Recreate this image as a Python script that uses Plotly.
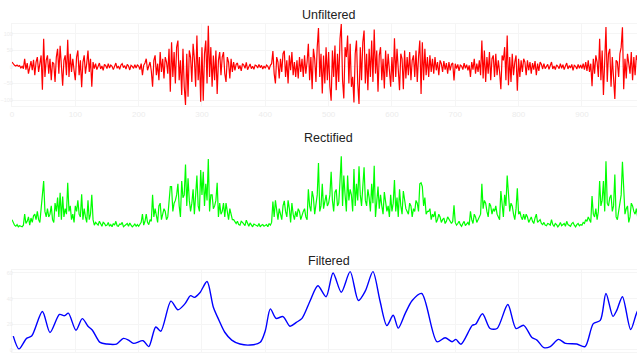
import plotly.graph_objects as go

# Unfiltered signal, one value every 2 samples (sample 0 .. 998)
unfiltered = [
    15, 8, 5, 3, 6, 2, 4, -3, 2, -5, 25, -8, 12, -20, 5, 18, -10, 22, -25, 15, 30, -15, 10, 35, -69,
    85, -30, 20, 35, -20, 25, -40, 15, 10, -45, 30, 55, -20, 64, -15, -57, 20, 35, -25, 82, -30, 40, -15, 25, -10,
    -40, 30, 50, -25, 20, -61, 15, 35, -20, 10, 50, -15, 25, -60, 15, -5, 10, -8, 5, 12, -6, 3, -10, 8, 4,
    -5, 10, -3, 6, 2, -8, 5, 12, -4, 3, -7, 6, 10, -2, 4, -6, 8, 3, -9, 5, 2, -4, 7, -3, 6,
    3, -8, 10, -25, 5, 12, 25, -10, 6, 15, -12, -60, 20, 35, -25, 10, -40, 45, -15, 25, -35, 30, 15, -20, 55,
    -75, 75, -30, 45, -50, 60, 80, -40, 20, -85, 55, -60, -115, 40, -90, 50, 30, -45, 70, 25, -60, 95, -40, 30, -105,
    60, -102, 40, 80, -50, 125, -30, 60, -60, 35, -40, 50, -82, 20, 45, -25, 30, 45, -20, -45, 30, 15, -35, 25, -15,
    15, -10, 8, 12, -6, 5, -12, 10, 6, -4, 14, -8, 3, 9, -5, 2, -7, 6, 4, -3, 8, -2, 5, -6, 3,
    -4, 6, 2, -8, 5, 10, 48, -20, -50, 30, 15, -35, 25, -15, 40, 49, -30, 20, -50, 35, -10, 45, -25, 15, -30,
    20, -35, 30, -15, 25, -30, 35, -20, 15, 70, -40, 30, -67, 55, 25, -45, 60, 118, -30, 40, -80, 35, -50, 60, -40,
    45, -60, -102, 50, -30, 65, -70, 40, -45, 85, 130, -40, -95, 60, 30, 95, -50, 70, -60, -30, -107, 40, 80, -50, -112,
    60, -40, 75, 110, -50, 40, -70, 55, -30, 80, -45, 113, -20, 50, -75, 35, 60, -40, 25, -65, 50, -30, 40, -20, -60,
    30, -45, 87, -30, 55, -20, -70, 40, 25, -67, 50, -35, 30, -25, 45, -40, 20, 35, -30, 50, -45, 30, 80, -82, 75,
    -40, 55, -25, 30, -30, 35, -15, 25, -20, 30, -10, 15, -25, 20, 10, -15, 18, -8, 12, -20, 15, -10, 8, 12, -41,
    10, -5, 8, -12, 6, 3, -8, 12, -4, 7, -10, 5, -30, 15, -8, 25, -20, 10, -15, 20, -25, 80, -35, 50, -45,
    30, -20, 45, -40, 25, 35, -30, 40, -25, 20, -15, -67, 35, 20, 60, -40, 95, -55, 30, -45, 40, -25, 15, 35, -72,
    25, -30, 20, -15, 25, 15, -25, 20, -10, 15, -20, 12, -8, 18, -25, 10, -12, 15, 8, -6, 10, -5, 4, 8, -7,
    5, 15, -6, 3, -8, 6, 2, -5, 10, -4, 7, -8, 3, 12, -6, 4, -3, 8, -10, 5, 2, -6, 8, -4, 6,
    -5, 10, -8, 15, -12, 20, -15, 10, -58, 25, -20, 35, 15, -30, 85, -40, 50, -85, 30, 121, -45, 40, 55, -60, 30,
    -40, -97, 20, 15, -30, 40, 60, 120, -67, 25, -35, 40, 10, -20, 45, -40, 30, -25, 35, 20, -30, 25, -15, 30, -20,
]
sample_step = 2
samples = [i * sample_step for i in range(len(unfiltered))]

# Rectified signal = absolute value of the unfiltered one
rectified = [abs(v) for v in unfiltered]

# Filtered (smoothed envelope)
filtered_x = [2, 11, 23, 31, 48, 60, 75, 83, 89, 101, 111, 120, 127, 139, 150, 165, 176, 184, 192,
              207, 216, 227, 235, 251, 262, 273, 282, 288, 297, 308, 318, 327, 336, 347, 360, 376,
              392, 400, 408, 417, 428, 439, 449, 458, 471, 483, 496, 507, 520, 534, 547, 558, 570,
              581, 592, 602, 610, 621, 632, 647, 671, 684, 695, 701, 709, 727, 732, 743, 755, 766,
              783, 796, 808, 821, 829, 840, 850, 863, 874, 892, 905, 918, 929, 938, 949, 955, 964,
              977, 987, 1000]
filtered_y = [10.8, 0.8, 9, 10.8, 30, 13.6, 27.7, 26.7, 28.7, 15.4, 24.4, 18.5, 15.4, 5.9, 4.6, 4.6,
              9, 7.7, 5.1, 7.2, 2.6, 17.9, 14.6, 38, 31.3, 35.9, 42.3, 41, 44.8, 53.3, 33.3, 23, 13.8,
              7.7, 4.6, 3.8, 6, 15, 32, 24.6, 26, 18.5, 21.5, 24.6, 38.5, 50, 41.5, 60, 45, 61, 38.5,
              46, 61, 38.5, 19, 27, 17, 28.5, 38.5, 44, 6.4, 9.5, 6.4, 8.2, 4.4, 19.2, 20, 28.2, 16.7,
              16.7, 35.4, 16.7, 19.2, 9.7, 7.7, 1.8, 2.6, 8.2, 5.1, 4.6, 2.6, 20.5, 23, 44, 26.2, 30.8,
              41.5, 15.9, 29.5, 40]

titles = ["Unfiltered", "Rectified", "Filtered"]

W, H = 637, 353
FAINT_GRID = "#f5f5f5"
FAINT_TEXT = "#ececec"
xtick_font = dict(family="Liberation Sans, Arial, sans-serif", size=8, color=FAINT_TEXT)
ytick_font = dict(family="Liberation Sans Narrow, Liberation Sans, Arial, sans-serif", size=5.5, color=FAINT_TEXT)

fig = go.Figure()
fig.add_trace(go.Scatter(x=samples, y=unfiltered, mode="lines",
                         line=dict(color="#ff0000", width=1.2), xaxis="x", yaxis="y"))
fig.add_trace(go.Scatter(x=samples, y=rectified, mode="lines",
                         line=dict(color="#00ff00", width=1.2), xaxis="x2", yaxis="y2"))
fig.add_trace(go.Scatter(x=filtered_x, y=filtered_y, mode="lines",
                         line=dict(color="#0000ff", width=1.4, shape="spline", smoothing=0.8),
                         xaxis="x3", yaxis="y3"))

def px_domain(top, bottom):
    return [1 - bottom / H, 1 - top / H]

xrange_ = [0, 987]
common_x = dict(range=xrange_, dtick=100, showgrid=True, gridcolor=FAINT_GRID, zeroline=False,
                showline=True, linecolor=FAINT_GRID, mirror=True, tickfont=xtick_font, ticks="",
                automargin=False)
common_y = dict(showgrid=True, gridcolor=FAINT_GRID, zeroline=False, showline=True,
                linecolor=FAINT_GRID, mirror=True, tickfont=ytick_font, ticks="", automargin=False,
                ticklabelstandoff=-3)

fig.update_layout(
    width=W, height=H,
    margin=dict(l=12, r=0, t=0, b=0, autoexpand=False),
    paper_bgcolor="white", plot_bgcolor="white",
    showlegend=False,
    xaxis=dict(domain=[0, 1], anchor="y", **common_x),
    yaxis=dict(domain=px_domain(24, 106), anchor="x", range=[-118, 130], dtick=50, **common_y),
    xaxis2=dict(domain=[0, 1], anchor="y2", range=xrange_, showgrid=False, zeroline=False,
                showticklabels=False, showline=False, automargin=False),
    yaxis2=dict(domain=px_domain(147, 229), anchor="x2", range=[-2, 147], showgrid=False,
                zeroline=False, showticklabels=False, showline=False, automargin=False),
    xaxis3=dict(domain=[0, 1], anchor="y3", showticklabels=False,
                **{k: v for k, v in common_x.items() if k != "tickfont"}),
    yaxis3=dict(domain=px_domain(270, 352), anchor="x3", range=[-1.6, 62.3], dtick=20, **common_y),
)

title_y = [15, 138, 261]
for i, (t, ty) in enumerate(zip(titles, title_y)):
    fig.add_annotation(text=t, x=500, xref="x" if i == 0 else f"x{i+1}",
                       y=1 - ty / H, yref="paper", showarrow=False,
                       xanchor="center", yanchor="middle",
                       font=dict(family="Liberation Sans, Arial, sans-serif", size=12.5, color="#222222"))

fig.write_html("out.html", config={"displayModeBar": False},
               post_script="document.body.style.margin='0px';document.body.style.overflow='hidden';")
